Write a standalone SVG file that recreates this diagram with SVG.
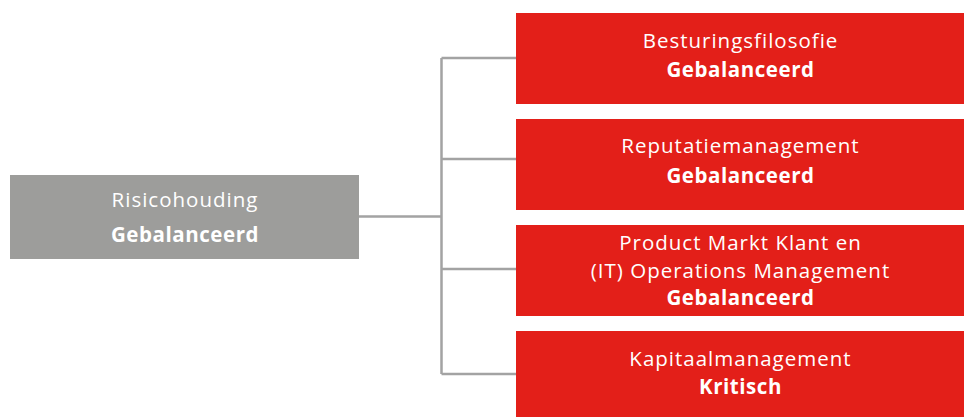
<svg xmlns="http://www.w3.org/2000/svg" width="964" height="417" viewBox="0 0 964 417">
<style>
.red{fill:#E31F19}
.grey{fill:#9D9D9B}
.t{font-family:"Open Sans","Liberation Sans",sans-serif;font-size:20.5px;fill:#fff;text-anchor:middle;letter-spacing:1px}
.b{font-weight:700;letter-spacing:0.55px}
.c{stroke:#A3A3A3;stroke-width:2.5;fill:none}
</style>
<g id="connectors">
<path class="c" d="M359 216.5H441.5M441.5 58V374M441.5 58H516M441.5 159H516M441.5 269H516M441.5 374H516"/>
</g>
<g id="risicohouding">
<rect class="grey" x="10" y="175" width="349" height="84"/>
<text class="t" x="185" y="207">Risicohouding</text>
<text class="t b" x="185" y="242">Gebalanceerd</text>
</g>
<g id="besturingsfilosofie">
<rect class="red" x="516" y="13" width="448" height="91"/>
<text class="t" x="740.5" y="48">Besturingsfilosofie</text>
<text class="t b" x="740.5" y="77">Gebalanceerd</text>
</g>
<g id="reputatiemanagement">
<rect class="red" x="516" y="119" width="448" height="91"/>
<text class="t" x="740.5" y="153">Reputatiemanagement</text>
<text class="t b" x="740.5" y="183">Gebalanceerd</text>
</g>
<g id="pmk">
<rect class="red" x="516" y="225" width="448" height="91"/>
<text class="t" x="740.5" y="250">Product Markt Klant en</text>
<text class="t" x="740.5" y="277.5">(IT) Operations Management</text>
<text class="t b" x="740.5" y="305">Gebalanceerd</text>
</g>
<g id="kapitaalmanagement">
<rect class="red" x="516" y="331" width="448" height="86"/>
<text class="t" x="740.5" y="366">Kapitaalmanagement</text>
<text class="t b" x="740.5" y="394">Kritisch</text>
</g>
</svg>
